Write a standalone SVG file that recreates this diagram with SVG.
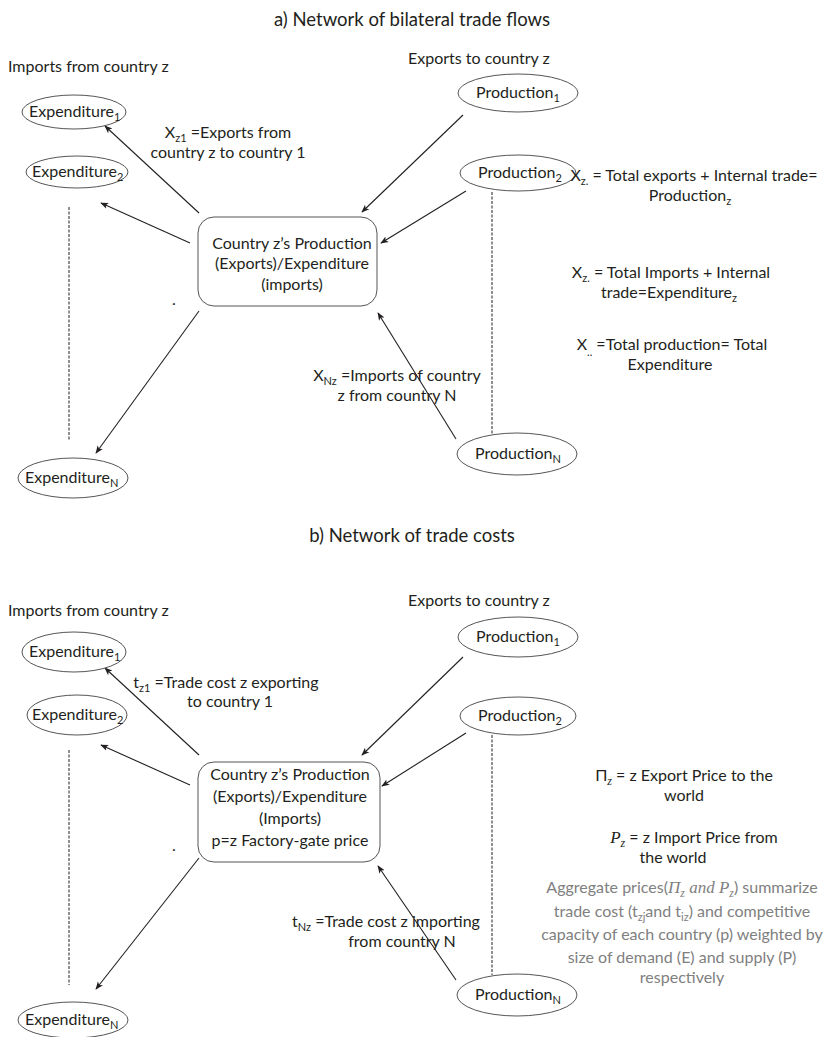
<svg xmlns="http://www.w3.org/2000/svg" width="824" height="1037" viewBox="0 0 824 1037">
<defs>
<style>
text{font-family:"Lato","Liberation Sans",sans-serif;font-size:16px;fill:#231f20}
.title{font-size:18.5px}
.mid{text-anchor:middle}
.sub{font-size:11px}
.grey{fill:#808080}
.math{font-family:"Liberation Serif",serif;font-style:italic;font-size:17px}
.sub.math{font-size:12px}
ellipse,rect{fill:#fff;stroke:#555;stroke-width:1}
.conn line{stroke:#231f20;stroke-width:1.1;marker-end:url(#ah)}
.conn line.dash{stroke-dasharray:3 1.5;marker-end:none;stroke-width:1}
</style>
<marker id="ah" viewBox="0 0 10 10" refX="9" refY="5" markerWidth="8" markerHeight="8" orient="auto" markerUnits="userSpaceOnUse">
<path d="M0,1 L10,5 L0,9 L2.5,5 z" fill="#231f20"/>
</marker>
</defs>
<rect x="0" y="0" width="824" height="1037" style="fill:#fff;stroke:none"/>

<!-- Section a -->
<text class="title mid" x="412" y="26">a) Network of bilateral trade flows</text>
<text x="8" y="72">Imports from country z</text>
<text x="408" y="64">Exports to country  z</text>

<g class="conn" id="connectors-a">
<line x1="199" y1="213" x2="105" y2="126"/>
<line x1="190" y1="243" x2="101" y2="203"/>
<line x1="199" y1="311" x2="96" y2="453"/>
<line x1="463" y1="115" x2="362" y2="212"/>
<line x1="466" y1="191" x2="381" y2="243"/>
<line x1="456" y1="439" x2="378" y2="313"/>
<line class="dash" x1="69" y1="207" x2="69" y2="440"/>
<line class="dash" x1="492" y1="192" x2="492" y2="435"/>
</g>

<g id="a-exp1"><ellipse cx="74" cy="112" rx="52" ry="17"/><text x="29" y="117">Expenditure<tspan class="sub" dy="4">1</tspan></text></g>
<g id="a-exp2"><ellipse cx="77" cy="172" rx="51" ry="16"/><text x="32" y="177">Expenditure<tspan class="sub" dy="4">2</tspan></text></g>
<g id="a-expN"><ellipse cx="73" cy="478" rx="55" ry="20"/><text x="25" y="483">Expenditure<tspan class="sub" dy="4">N</tspan></text></g>
<g id="a-prod1"><ellipse cx="518" cy="93" rx="60" ry="19"/><text x="476" y="98">Production<tspan class="sub" dy="4">1</tspan></text></g>
<g id="a-prod2"><ellipse cx="518" cy="173" rx="58" ry="18"/><text x="478" y="178">Production<tspan class="sub" dy="4">2</tspan></text></g>
<g id="a-prodN"><ellipse cx="517" cy="454" rx="60" ry="21"/><text x="475" y="459">Production<tspan class="sub" dy="4">N</tspan></text></g>
<g id="a-center"><rect x="198" y="217" width="179" height="89" rx="16"/>
<text class="mid" x="292" y="249">Country z’s Production</text>
<text class="mid" x="292" y="269">(Exports)/Expenditure</text>
<text class="mid" x="292" y="290">(imports)</text></g>

<text class="mid" x="228" y="138">X<tspan class="sub" dy="4">z1</tspan><tspan dy="-4"> =Exports from</tspan></text>
<text class="mid" x="228" y="158">country z to country 1</text>
<text class="mid" x="397" y="381">X<tspan class="sub" dy="4">Nz</tspan><tspan dy="-4"> =Imports of country</tspan></text>
<text class="mid" x="397" y="401">z from country N</text>
<text x="172" y="305">.</text>

<text class="mid" x="694" y="181">X<tspan class="sub" dy="4">z.</tspan><tspan dy="-4"> = Total exports + Internal trade=</tspan></text>
<text class="mid" x="690" y="201">Production<tspan class="sub" dy="4">z</tspan></text>
<text class="mid" x="671" y="278">X<tspan class="sub" dy="4">z.</tspan><tspan dy="-4"> = Total Imports + Internal</tspan></text>
<text class="mid" x="669" y="298">trade=Expenditure<tspan class="sub" dy="4">z</tspan></text>
<text class="mid" x="672" y="350">X<tspan class="sub" dy="6">..</tspan><tspan dy="-6">  =Total production= Total</tspan></text>
<text class="mid" x="670" y="370">Expenditure</text>

<!-- Section b -->
<text class="title mid" x="412" y="542">b) Network of trade costs</text>
<text x="8" y="616">Imports from country z</text>
<text x="408" y="606">Exports to country  z</text>

<g class="conn" id="connectors-b">
<line x1="199" y1="755" x2="105" y2="668"/>
<line x1="190" y1="785" x2="101" y2="745"/>
<line x1="199" y1="858" x2="96" y2="989"/>
<line x1="463" y1="657" x2="362" y2="755"/>
<line x1="466" y1="733" x2="382" y2="786"/>
<line x1="456" y1="980" x2="378" y2="866"/>
<line class="dash" x1="69" y1="750" x2="69" y2="985"/>
<line class="dash" x1="492" y1="735" x2="492" y2="975"/>
</g>

<g id="b-exp1"><ellipse cx="74" cy="652" rx="52" ry="20"/><text x="29" y="657">Expenditure<tspan class="sub" dy="4">1</tspan></text></g>
<g id="b-exp2"><ellipse cx="77" cy="715" rx="50" ry="20"/><text x="32" y="720">Expenditure<tspan class="sub" dy="4">2</tspan></text></g>
<g id="b-expN"><ellipse cx="73" cy="1020" rx="55" ry="18"/><text x="25" y="1025">Expenditure<tspan class="sub" dy="4">N</tspan></text></g>
<g id="b-prod1"><ellipse cx="518" cy="637" rx="60" ry="20"/><text x="476" y="642">Production<tspan class="sub" dy="4">1</tspan></text></g>
<g id="b-prod2"><ellipse cx="518" cy="716" rx="58" ry="19"/><text x="478" y="721">Production<tspan class="sub" dy="4">2</tspan></text></g>
<g id="b-prodN"><ellipse cx="517" cy="995" rx="60" ry="21"/><text x="475" y="1000">Production<tspan class="sub" dy="4">N</tspan></text></g>
<g id="b-center"><rect x="198" y="762" width="182" height="100" rx="16"/>
<text class="mid" x="290" y="780">Country z’s Production</text>
<text class="mid" x="290" y="802">(Exports)/Expenditure</text>
<text class="mid" x="290" y="824">(Imports)</text>
<text class="mid" x="290" y="846">p=z Factory-gate price</text></g>

<text class="mid" x="226" y="688">t<tspan class="sub" dy="4">z1</tspan><tspan dy="-4"> =Trade cost z exporting</tspan></text>
<text class="mid" x="230" y="707">to country 1</text>
<text class="mid" x="386" y="927">t<tspan class="sub" dy="4">Nz</tspan><tspan dy="-4"> =Trade cost z importing</tspan></text>
<text class="mid" x="402" y="947">from country N</text>
<text x="172" y="851">.</text>

<text class="mid" x="684" y="781">Π<tspan class="sub math" dy="4">z</tspan><tspan dy="-4"> = z Export Price to the</tspan></text>
<text class="mid" x="684" y="801">world</text>
<text class="mid" x="694" y="843"><tspan class="math">P</tspan><tspan class="sub math" dy="4">z</tspan><tspan dy="-4"> = z Import Price from</tspan></text>
<text class="mid" x="673" y="863">the world</text>
<g class="grey">
<text class="mid grey" x="682" y="893">Aggregate prices(<tspan class="math grey">Π</tspan><tspan class="sub math grey" dy="4">z</tspan><tspan class="math grey" dy="-4"> and P</tspan><tspan class="sub math grey" dy="4">z</tspan><tspan dy="-4">)  summarize</tspan></text>
<text class="mid grey" x="682" y="917">trade cost (t<tspan class="sub grey" dy="4">zj</tspan><tspan dy="-4">and t</tspan><tspan class="sub grey" dy="4">iz</tspan><tspan dy="-4">) and competitive</tspan></text>
<text class="mid grey" x="682" y="940">capacity of each country (p) weighted by</text>
<text class="mid grey" x="682" y="963">size of demand (E) and supply (P)</text>
<text class="mid grey" x="682" y="983">respectively</text>
</g>
</svg>
